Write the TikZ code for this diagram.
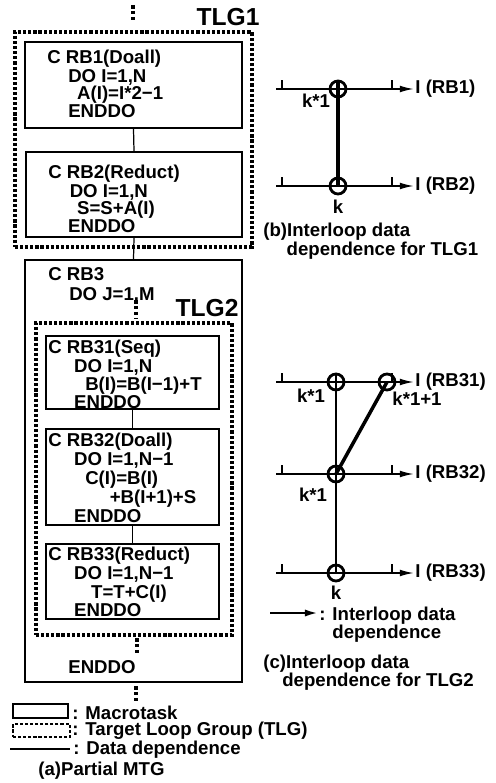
\documentclass[tikz,border=0pt]{standalone}
\usepackage{fontspec}
\setmainfont{Liberation Sans}
\usepackage{tikz}
\usetikzlibrary{arrows.meta, fit}

\begin{document}
\begin{tikzpicture}[x=0.02cm, y=-0.02cm, >=Latex,
    font=\bfseries\fontsize{10.6}{12}\selectfont,
    task/.style={draw, line width=1.1pt, inner sep=0pt},
    tlg/.style={draw, line width=2pt, dash pattern=on 1.8pt off 1.1pt, inner sep=0pt},
    cont/.style={line width=2pt, dash pattern=on 2pt off 1.4pt},
    dep/.style={line width=0.7pt},
    code/.style={anchor=north west, align=left, inner sep=0pt,
                 font=\bfseries\fontsize{10.6}{#1}\selectfont},
    code/.default=9.6pt,
    txt/.style={anchor=west, inner sep=0pt},
    lbl/.style={inner sep=0pt},
    axis/.style={line width=0.9pt, -{Latex[length=8pt, width=3.8pt]}},
    tick/.style={line width=0.7pt},
    itr/.style={circle, draw, line width=1.6pt, minimum size=0.32cm, inner sep=0pt},
    ild/.style={line width=2pt},
    ildthin/.style={line width=1.1pt}]

\useasboundingbox (0,0) rectangle (496,783);

% (a) partial MTG
\coordinate (up1) at (133,5);
\coordinate (up2) at (133,21);
\draw[cont] (up1) -- (up2);

\node[tlg, fit={(15,32) (252,247)}] (tlg1) {};
\node[lbl, font=\bfseries\fontsize{14}{14}\selectfont] (tlg1lab) at (228,17) {TLG1};

\node[task, fit={(25,42) (242,128)}] (rb1) {};
\node[code] (rb1txt) at (47,50) {C RB1(Doall)\\\hspace*{11.9pt}DO I=1,N\\\hspace*{17pt}A(I)=I*2−1\\\hspace*{11.9pt}ENDDO};

\node[task, fit={(26,152) (242,237)}] (rb2) {};
\node[code] (rb2txt) at (48,165) {C RB2(Reduct)\\\hspace*{12.2pt}DO I=1,N\\\hspace*{16.4pt}S=S+A(I)\\\hspace*{11.3pt}ENDDO};

\node[task, fit={(25,260) (242,682)}] (rb3) {};
\node[code=11.3pt] (rb3txt) at (48,267) {C RB3\\\hspace*{11.9pt}DO J=1,M};
\coordinate (in1) at (136,300);
\coordinate (in2) at (136,318);
\draw[cont] (in1) -- (in2);

\node[tlg, fit={(36,323) (232,635)}] (tlg2) {};
\node[lbl, font=\bfseries\fontsize{14}{14}\selectfont] (tlg2lab) at (207,308) {TLG2};

\node[task, fit={(46,336) (219,409)}] (rb31) {};
\node[code=10.4pt] (rb31txt) at (48,340) {C RB31(Seq)\\\hspace*{14.7pt}DO I=1,N\\\hspace*{21pt}B(I)=B(I−1)+T\\\hspace*{14.7pt}ENDDO};

\node[task, fit={(46,429) (219,525)}] (rb32) {};
\node[code=10.8pt] (rb32txt) at (48,433) {C RB32(Doall)\\\hspace*{14.7pt}DO I=1,N−1\\\hspace*{21pt}C(I)=B(I)\\\hspace*{35pt}+B(I+1)+S\\\hspace*{14.7pt}ENDDO};

\node[task, fit={(46,544) (219,619)}] (rb33) {};
\node[code=10.6pt] (rb33txt) at (48,547) {C RB33(Reduct)\\\hspace*{14.7pt}DO I=1,N−1\\\hspace*{24.4pt}T=T+C(I)\\\hspace*{14.7pt}ENDDO};

\coordinate (out1) at (137,638);
\coordinate (out2) at (137,654);
\draw[cont] (out1) -- (out2);
\node[code] (rb3end) at (68,660) {ENDDO};

\coordinate (dn1) at (136,686);
\coordinate (dn2) at (136,701);
\draw[cont] (dn1) -- (dn2);

% data dependence
\draw[dep] (rb1.south) -- (rb2.north);
\draw[dep] (rb2.south) -- (rb3.north);
\draw[dep] (rb31.south) -- (rb32.north);
\draw[dep] (rb32.south) -- (rb33.north);

% legend
\node[task, fit={(13,704) (68,718)}] (lgtask) {};
\node[txt] (lgtasktxt) at (72,713) {: Macrotask};
\node[tlg, line width=1.5pt, fit={(13,724) (70,737)}] (lgtlg) {};
\node[txt] (lgtlgtxt) at (72,731) {: Target Loop Group (TLG)};
\coordinate (lgd1) at (10,749);
\coordinate (lgd2) at (70,749);
\draw[dep] (lgd1) -- (lgd2);
\node[txt] (lgdeptxt) at (73,750) {: Data dependence};
\node[txt] (capa) at (38,771) {(a)Partial MTG};

% axes of (b) and (c)
\foreach \n/\y/\l in {ax1/89/RB1, ax2/186/RB2, ax3/382/RB31, ax4/474/RB32, ax5/573/RB33} {
    \coordinate (\n s) at (276,\y);
    \node[txt, inner sep=0.6pt] (\n) at (414,\y) {I (\l)};
    \draw[axis] (\n s) -- (\n.west);
    \draw[tick] (282,\y) -- ++(0,-9);
    \draw[tick] (392,\y) -- ++(0,-9);
}

% (b) TLG1
\node[itr] (b1) at (338,89) {};
\node[itr] (b2) at (338,186) {};
\draw[ild] (b1.north) -- (b2.center);
\node[lbl] (kb1) at (316,101) {k*1};
\node[lbl] (kb2) at (338,207) {k};
\node[code=10.5pt] (capb) at (263,223) {(b)Interloop data\\\hspace*{13.3pt}dependence for TLG1};

% (c) TLG2
\node[itr] (c1) at (336,382) {};
\node[itr] (c2) at (387,382) {};
\node[itr] (c3) at (336,474) {};
\node[itr] (c4) at (336,573) {};
\draw[ildthin] (c1.north) -- (c4.center);
\draw[ild] (c2.center) -- (c3.center);
\node[lbl] (kc1) at (311,396) {k*1};
\node[lbl] (kc2) at (417,399) {k*1+1};
\node[lbl] (kc3) at (313,495) {k*1};
\node[lbl] (kc4) at (336,593) {k};

\coordinate (lgs) at (270,613);
\coordinate (lge) at (319,613);
\draw[line width=1.5pt, -{Latex[length=8pt, width=4pt]}] (lgs) -- (lge);
\node[code=10.2pt] (lgild) at (319,607) {: Interloop data\\\hphantom{: }dependence};
\node[code=10.2pt] (capc) at (263,655) {(c)Interloop data\\\hspace*{10.8pt}dependence for TLG2};
\end{tikzpicture}
\end{document}
